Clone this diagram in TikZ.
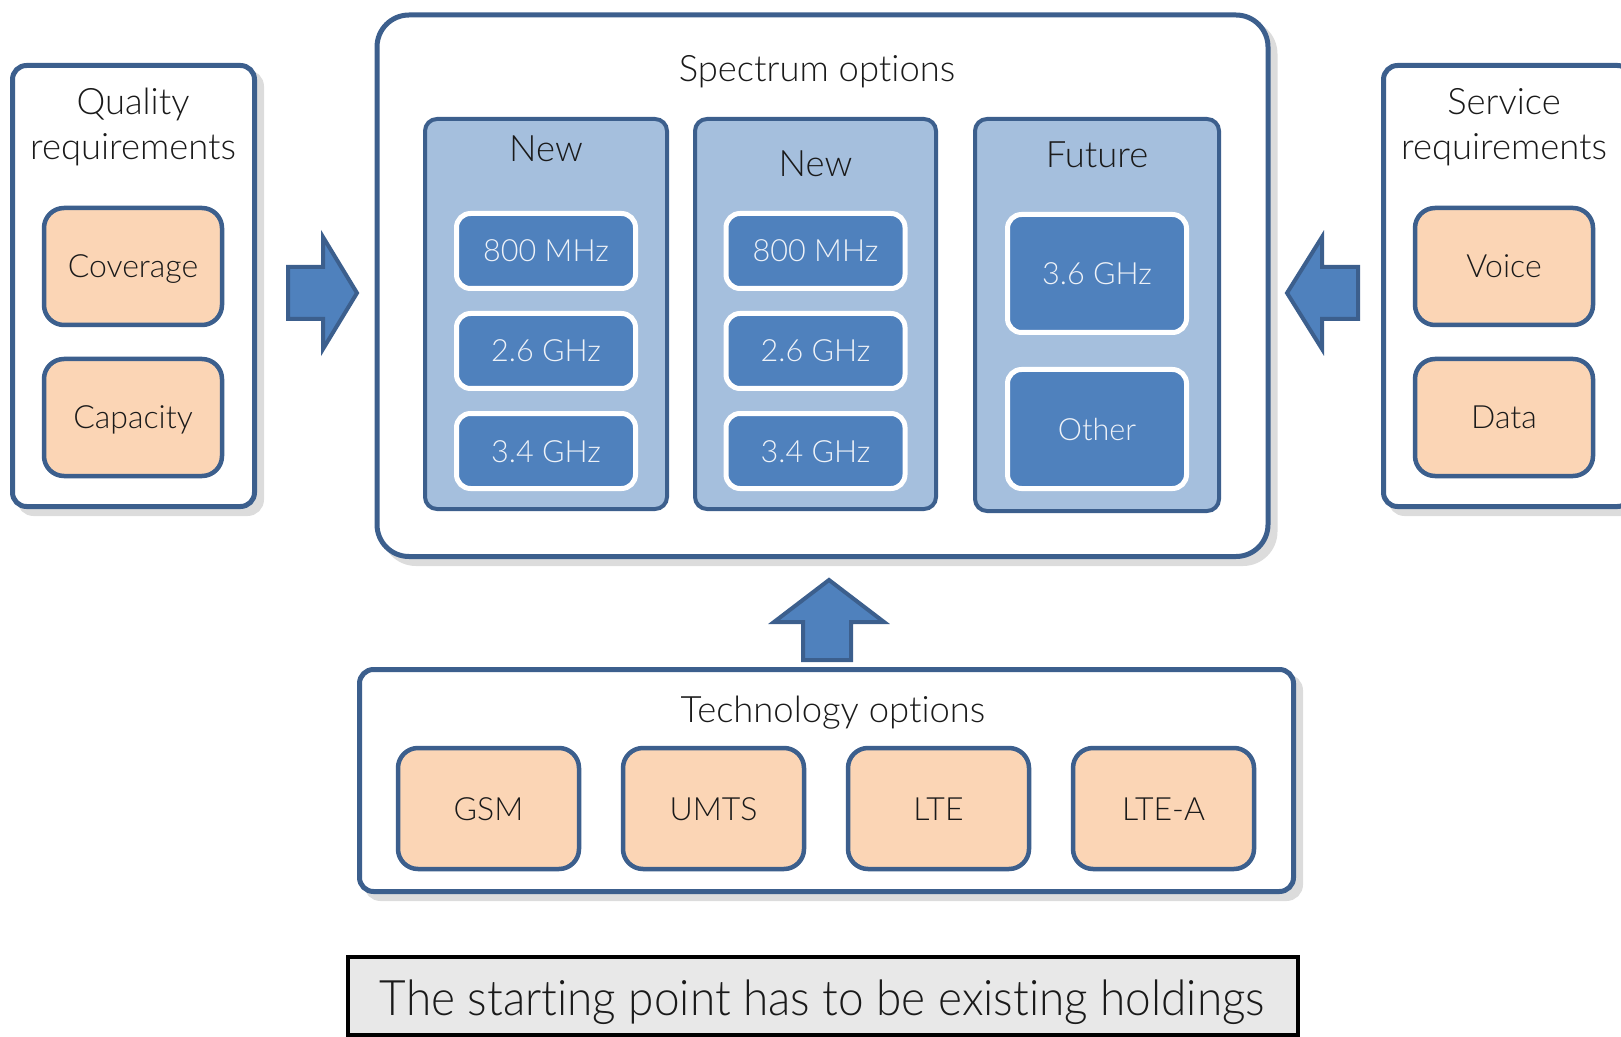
\documentclass[tikz,border=0pt]{standalone}
\usepackage{fontspec}
\usepackage{graphicx}
\IfFontExistsTF{Lato Light}{\setmainfont{Lato Light}[Ligatures={NoCommon,NoContextual}]}{\setmainfont{TeX Gyre Heros}}
\definecolor{dblue}{HTML}{3C5F8D}
\definecolor{colfill}{HTML}{A5BFDD}
\definecolor{boxblue}{HTML}{4F81BD}
\definecolor{orng}{HTML}{FBD5B5}
\definecolor{shadowgray}{HTML}{DCDCDC}
\definecolor{txt}{HTML}{1A1A1A}
\definecolor{ltxt}{HTML}{EEF2F8}
\definecolor{botfill}{HTML}{E8E8E8}
\begin{document}
\begin{tikzpicture}[x=0.5pt,y=-0.5pt,
 shad/.style={preaction={fill=shadowgray,draw=shadowgray,transform canvas={shift={(3.5pt,-3.5pt)}}}},
 container/.style={shad,draw=dblue,fill=white,line width=2.5pt,rounded corners=7pt,inner sep=0pt},
 colbox/.style={draw=dblue,fill=colfill,line width=2pt,rounded corners=6pt,inner sep=0pt,minimum width=121pt,minimum height=195pt},
 freq/.style={draw=white,fill=boxblue,line width=2.5pt,rounded corners=7pt,inner sep=0pt,minimum width=89.5pt,minimum height=37.5pt,text=ltxt,font=\fontsize{15.3}{18}\selectfont,text height=11pt,text depth=0pt},
 req/.style={draw=dblue,fill=orng,line width=2.25pt,rounded corners=10pt,inner sep=0pt,minimum width=89pt,minimum height=58.5pt,text=txt,font=\fontsize{16}{19}\selectfont,text height=11.5pt,text depth=0pt},
 title/.style={text=txt,font=\fontsize{18.2}{22.5}\selectfont,inner sep=0pt,anchor=base,align=center},
 blockarrow/.style={draw=dblue,fill=boxblue,line width=2pt,line join=miter}
]
\useasboundingbox (0,0) rectangle (1621,1037);

% left: quality requirements
\node[container,minimum width=121pt,minimum height=220.5pt] (qual) at (133.5,286) {};
\node[title] (qualt) at (133,160) {Quality\\requirements};
\node[req] (cov) at (133,266.5) {Coverage};
\node[req] (capa) at (133,417.5) {Capacity};

% right: service requirements
\node[container,minimum width=124pt,minimum height=220.5pt] (serv) at (1507.5,286) {};
\node[title] (servt) at (1504,160) {Service\\requirements};
\node[req] (voice) at (1504,266.5) {Voice};
\node[req] (data) at (1504,417.5) {Data};

% spectrum options
\node[container,rounded corners=16pt,minimum width=445.5pt,minimum height=270.75pt] (spec) at (822.5,285.75) {};
\node[title] (spect) at (817,82) {Spectrum options};
\node[colbox] (c1) at (546,314) {};
\node[colbox,minimum width=120.5pt] (c2) at (815.5,314) {};
\node[colbox,minimum width=122pt,minimum height=196pt] (c3) at (1097,315) {};
\node[title] (c1t) at (546,162) {New};
\node[title] (c2t) at (815.5,177) {New};
\node[title] (c3t) at (1097,168) {Future};
\node[freq] (a1) at (546,251) {800 MHz};
\node[freq] (a2) at (546,351) {2.6 GHz};
\node[freq] (a3) at (546,451) {3.4 GHz};
\node[freq] (b1) at (815.5,251) {800 MHz};
\node[freq] (b2) at (815.5,351) {2.6 GHz};
\node[freq] (b3) at (815.5,451) {3.4 GHz};
\node[freq,minimum height=59pt] (f1) at (1097,273.5) {3.6 GHz};
\node[freq,minimum height=59.5pt] (f2) at (1097,429) {Other};

% technology options
\node[container,minimum width=467pt,minimum height=111pt] (tech) at (826.5,780.5) {};
\node[title] (techt) at (833,722) {Technology options};
\node[req,minimum width=90.5pt,minimum height=60.5pt] (gsm) at (488.5,808.5) {GSM};
\node[req,minimum width=90.5pt,minimum height=60.5pt] (umts) at (713.5,808.5) {UMTS};
\node[req,minimum width=90.5pt,minimum height=60.5pt] (lte) at (938.5,808.5) {LTE};
\node[req,minimum width=90.5pt,minimum height=60.5pt] (ltea) at (1163.5,808.5) {LTE-A};

% block arrows
\draw[blockarrow] (288,267) -- (323,267) -- (323,237) -- (357,293) -- (323,349) -- (323,319) -- (288,319) -- cycle;
\draw[blockarrow] (1358,267) -- (1322,267) -- (1322,237) -- (1287,293) -- (1322,349) -- (1322,319) -- (1358,319) -- cycle;
\draw[blockarrow] (803,660) -- (803,622) -- (774,622) -- (829,580) -- (884,622) -- (851,622) -- (851,660) -- cycle;

% bottom statement
\node[draw=black,fill=botfill,line width=1.75pt,minimum width=475pt,minimum height=39pt,inner sep=0pt] (bot) at (823,996) {};
\node[text=txt,font=\fontsize{24.5}{29}\selectfont,anchor=base,inner sep=0pt] (bott) at (822.5,1015) {\resizebox{442.5pt}{\height}{The starting point has to be existing holdings}};
\end{tikzpicture}
\end{document}
